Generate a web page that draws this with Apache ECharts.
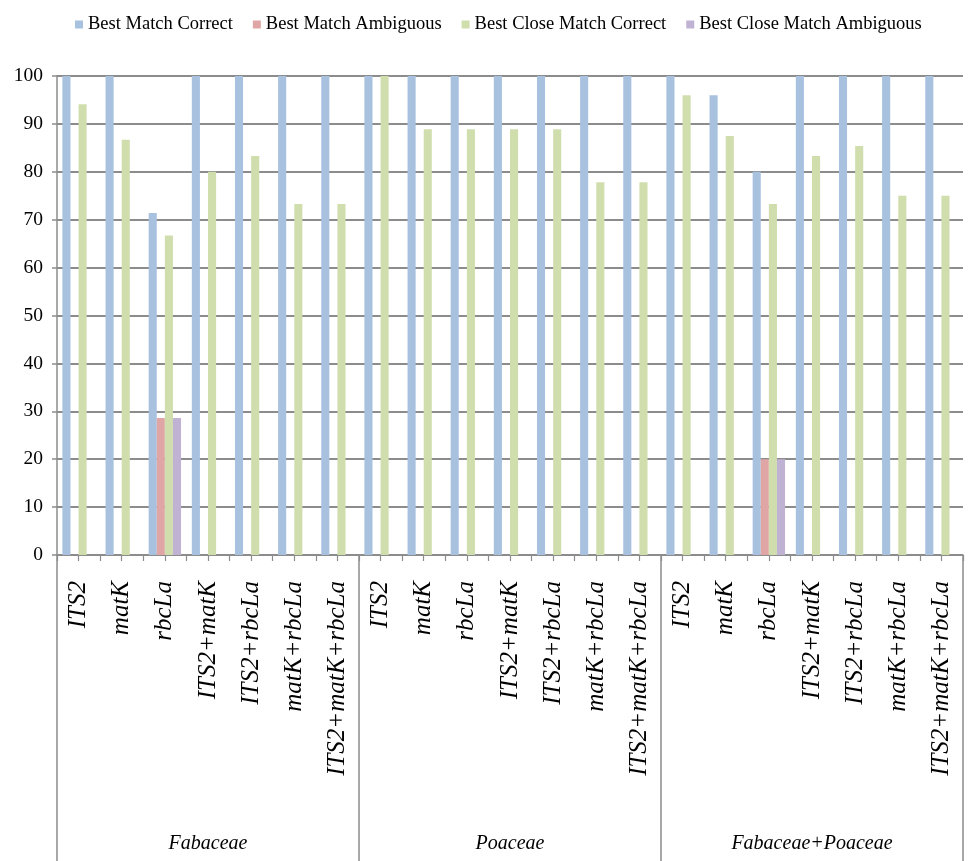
<!DOCTYPE html>
<html>
<head>
<meta charset="utf-8">
<script src="https://cdn.jsdelivr.net/npm/echarts@6/dist/echarts.min.js"></script>
<style>
  html, body { margin: 0; padding: 0; background: #fff; }
  #chart { width: 969px; height: 861px; }
</style>
</head>
<body>
<div id="chart"></div>
<script>
const markers = ['ITS2', 'matK', 'rbcLa', 'ITS2+matK', 'ITS2+rbcLa', 'matK+rbcLa', 'ITS2+matK+rbcLa'];
const groups = ['Fabaceae', 'Poaceae', 'Fabaceae+Poaceae'];
const categories = [].concat(markers, markers, markers);
const seriesNames = ['Best Match Correct', 'Best Match Ambiguous', 'Best Close Match Correct', 'Best Close Match Ambiguous'];

const bestMatchCorrect = [
  100, 100, 71.4, 100, 100, 100, 100,
  100, 100, 100, 100, 100, 100, 100,
  100, 96, 80, 100, 100, 100, 100
];
const bestMatchAmbiguous = [
  0, 0, 28.6, 0, 0, 0, 0,
  0, 0, 0, 0, 0, 0, 0,
  0, 0, 20, 0, 0, 0, 0
];
const bestCloseMatchCorrect = [
  94.1, 86.7, 66.7, 80, 83.3, 73.3, 73.3,
  100, 88.9, 88.9, 88.9, 88.9, 77.8, 77.8,
  96, 87.5, 73.3, 83.3, 85.4, 75, 75
];
const bestCloseMatchAmbiguous = [
  0, 0, 28.6, 0, 0, 0, 0,
  0, 0, 0, 0, 0, 0, 0,
  0, 0, 20, 0, 0, 0, 0
];
const yTicks = { min: 0, max: 100, interval: 10 };

const colors = ['#A7C1DF', '#E0A6A5', '#D0DEAE', '#BFB2D2'];
const serif = '"Liberation Serif", "Times New Roman", serif';
const gridGrey = '#8c8c8c';

const chart = echarts.init(document.getElementById('chart'));
const dataSets = [bestMatchCorrect, bestMatchAmbiguous, bestCloseMatchCorrect, bestCloseMatchAmbiguous];

chart.setOption({
  animation: false,
  color: colors,
  legend: {
    left: 70,
    top: 10,
    icon: 'rect',
    itemWidth: 8,
    itemHeight: 8,
    itemGap: 20,
    textStyle: { fontFamily: serif, fontSize: 18.5, color: '#000' },
    data: seriesNames
  },
  grid: { left: 57, right: 6, top: 76, bottom: 306, containLabel: false },
  xAxis: [
    {
      type: 'category',
      data: categories,
      position: 'bottom',
      axisLine: { show: true, lineStyle: { color: gridGrey, width: 1.5 } },
      axisTick: { show: true, interval: 0, length: 6, lineStyle: { color: gridGrey, width: 1.2 } },
      axisLabel: {
        interval: 0, rotate: 90, margin: 26,
        fontFamily: serif, fontStyle: 'italic', fontSize: 25, color: '#000'
      }
    },
    {
      type: 'category',
      data: categories,
      position: 'bottom',
      axisLine: { show: false },
      axisTick: { show: true, interval: 0, alignWithLabel: true, length: 6, lineStyle: { color: gridGrey, width: 1.2 } },
      axisLabel: { show: false }
    },
    {
      type: 'category',
      data: groups,
      position: 'bottom',
      axisLine: { show: false },
      axisTick: { show: true, interval: 0, length: 306, lineStyle: { color: gridGrey, width: 1.5 } },
      axisLabel: {
        interval: 0, margin: 279,
        fontFamily: serif, fontStyle: 'italic', fontSize: 20, color: '#000'
      }
    }
  ],
  yAxis: {
    type: 'value',
    min: yTicks.min, max: yTicks.max, interval: yTicks.interval,
    axisLine: { show: true, lineStyle: { color: gridGrey, width: 1.5 } },
    axisTick: { show: true, length: 5, lineStyle: { color: gridGrey, width: 1.5 } },
    axisLabel: { margin: 14, fontFamily: serif, fontSize: 19.5, color: '#000' },
    splitLine: { show: true, lineStyle: { color: gridGrey, width: 1.8 } }
  },
  series: seriesNames.map((name, i) => ({
    name: name,
    type: 'bar',
    xAxisIndex: 0,
    data: dataSets[i],
    barGap: '0%',
    barCategoryGap: '25%',
    itemStyle: { color: colors[i] }
  }))
});
</script>
</body>
</html>
